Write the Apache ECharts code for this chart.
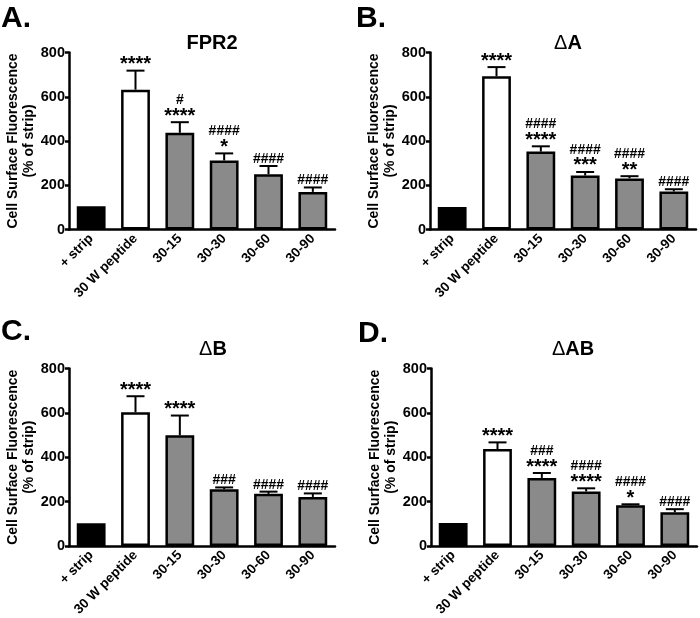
<!DOCTYPE html>
<html>
<head>
<meta charset="utf-8">
<script src="https://cdn.jsdelivr.net/npm/echarts@6/dist/echarts.min.js"></script>
<style>html,body{margin:0;padding:0;background:#fff}#c{width:700px;height:618px}</style>
</head>
<body>
<div id="c"></div>
<script>
// ---------- DATA ----------
const categories = ['+ strip', '30 W peptide', '30-15', '30-30', '30-60', '30-90'];
const yTicks = [0, 200, 400, 600, 800];

const meanA = [105, 632, 437, 312, 250, 170];
const semA  = [0, 86, 48, 32, 37, 20];
const starsA = ['', '****', '****', '*', '', ''];
const hashA  = ['', '', '#', '####', '####', '####'];

const meanB = [102, 693, 352, 244, 231, 172];
const semB  = [0, 41, 24, 16, 10, 10];
const starsB = ['', '****', '****', '***', '**', ''];
const hashB  = ['', '', '####', '####', '####', '####'];

const meanC = [102, 603, 499, 256, 235, 221];
const semC  = [0, 72, 89, 8, 10, 16];
const starsC = ['', '****', '****', '', '', ''];
const hashC  = ['', '', '', '###', '####', '####'];

const meanD = [104, 437, 307, 246, 184, 152];
const semD  = [0, 30, 22, 14, 4, 14];
const starsD = ['', '****', '****', '****', '*', ''];
const hashD  = ['', '', '###', '####', '####', '####'];

const panelTitles = [['', 'FPR2'], ['Δ', 'A'], ['Δ', 'B'], ['Δ', 'AB']];
const panelLetters = ['A.', 'B.', 'C.', 'D.'];
const yAxisName = 'Cell Surface Fluorescence\n(% of strip)';

// ---------- LAYOUT / STYLE ----------
const FONT = 'Arial, "Liberation Sans", Helvetica, sans-serif';
const panels = [
  {mean: meanA, sem: semA, stars: starsA, hash: hashA, grid: {left: 69, top: 52.5, width: 266, height: 177}, titleX: 212, titleY: 33, letter: [1, 4]},
  {mean: meanB, sem: semB, stars: starsB, hash: hashB, grid: {left: 430, top: 52.5, width: 266, height: 177}, titleX: 568, titleY: 33, letter: [356, 4]},
  {mean: meanC, sem: semC, stars: starsC, hash: hashC, grid: {left: 69, top: 368.5, width: 266, height: 177.5}, titleX: 213, titleY: 339, letter: [1, 317]},
  {mean: meanD, sem: semD, stars: starsD, hash: hashD, grid: {left: 431, top: 368.5, width: 266, height: 177.5}, titleX: 573, titleY: 339, letter: [358, 319]}
];
const barFill = ['#000000', '#ffffff', '#8a8a8a', '#8a8a8a', '#8a8a8a', '#8a8a8a'];

const grid = [], xAxis = [], yAxis = [], series = [], title = [], graphic = [];

panels.forEach((p, k) => {
  grid.push(Object.assign({containLabel: false, outerBoundsMode: 'none'}, p.grid));
  xAxis.push({
    type: 'category', gridIndex: k, data: categories,
    axisLine: {lineStyle: {color: '#000', width: 2.5}},
    axisTick: {alignWithLabel: true, length: 5, lineStyle: {color: '#000', width: 2}},
    axisLabel: {rotate: 45, interval: 0, margin: 7, color: '#000', fontWeight: 'bold', fontSize: 13.5, fontFamily: FONT}
  });
  yAxis.push({
    type: 'value', gridIndex: k, min: yTicks[0], max: yTicks[yTicks.length - 1], interval: yTicks[1] - yTicks[0],
    axisLine: {show: true, lineStyle: {color: '#000', width: 2.5}},
    axisTick: {show: true, length: 4, lineStyle: {color: '#000', width: 2.5}},
    splitLine: {show: false},
    axisLabel: {margin: 4, color: '#000', fontWeight: 'bold', fontSize: 14.5, fontFamily: FONT},
    name: yAxisName, nameLocation: 'middle', nameGap: 32,
    nameTextStyle: {color: '#000', fontWeight: 'bold', fontSize: 14, lineHeight: 16, fontFamily: FONT}
  });
  series.push({
    type: 'bar', xAxisIndex: k, yAxisIndex: k, barWidth: '65%', animation: false,
    data: p.mean.map((v, i) => ({value: v, itemStyle: {color: barFill[i], borderColor: '#000', borderWidth: 2.5}}))
  });
  series.push({
    type: 'custom', xAxisIndex: k, yAxisIndex: k, z: 5, animation: false,
    data: p.mean.map((v, i) => [i, v, p.sem[i]]),
    renderItem: function (params, api) {
      const i = api.value(0), m = api.value(1), s = api.value(2);
      const base = api.coord([i, m]);
      const top = api.coord([i, m + s]);
      const children = [];
      if (s > 0) {
        children.push({type: 'line', shape: {x1: base[0], y1: base[1], x2: top[0], y2: top[1]}, style: {stroke: '#000', lineWidth: 2}});
        children.push({type: 'line', shape: {x1: top[0] - 9, y1: top[1], x2: top[0] + 9, y2: top[1]}, style: {stroke: '#000', lineWidth: 2}});
      }
      const st = p.stars[i], h = p.hash[i];
      if (st) {
        children.push({type: 'text', style: {text: st, x: top[0], y: top[1] - 6, align: 'center', verticalAlign: 'middle',
          font: 'bold 20px ' + FONT, fill: '#000'}});
      }
      if (h) {
        children.push({type: 'text', style: {text: h, x: top[0], y: top[1] - (st ? 22 : 7), align: 'center', verticalAlign: 'middle',
          font: 'bold 14px ' + FONT, fill: '#000'}});
      }
      return {type: 'group', children: children};
    }
  });
  title.push({
    text: '{d|' + panelTitles[k][0] + '}{b|' + panelTitles[k][1] + '}',
    left: p.titleX, top: p.titleY, textAlign: 'center', padding: 0,
    textStyle: {rich: {
      d: {fontSize: 20, fontWeight: 'normal', color: '#000', fontFamily: FONT},
      b: {fontSize: 20, fontWeight: 'bold', color: '#000', fontFamily: FONT}
    }}
  });
  graphic.push({type: 'text', left: p.letter[0], top: p.letter[1],
    style: {text: panelLetters[k], font: 'bold 30px ' + FONT, fill: '#000'}});
});

const chart = echarts.init(document.getElementById('c'), null, {renderer: 'canvas'});
chart.setOption({animation: false, backgroundColor: '#fff', grid, xAxis, yAxis, series, title, graphic});
</script>
</body>
</html>
